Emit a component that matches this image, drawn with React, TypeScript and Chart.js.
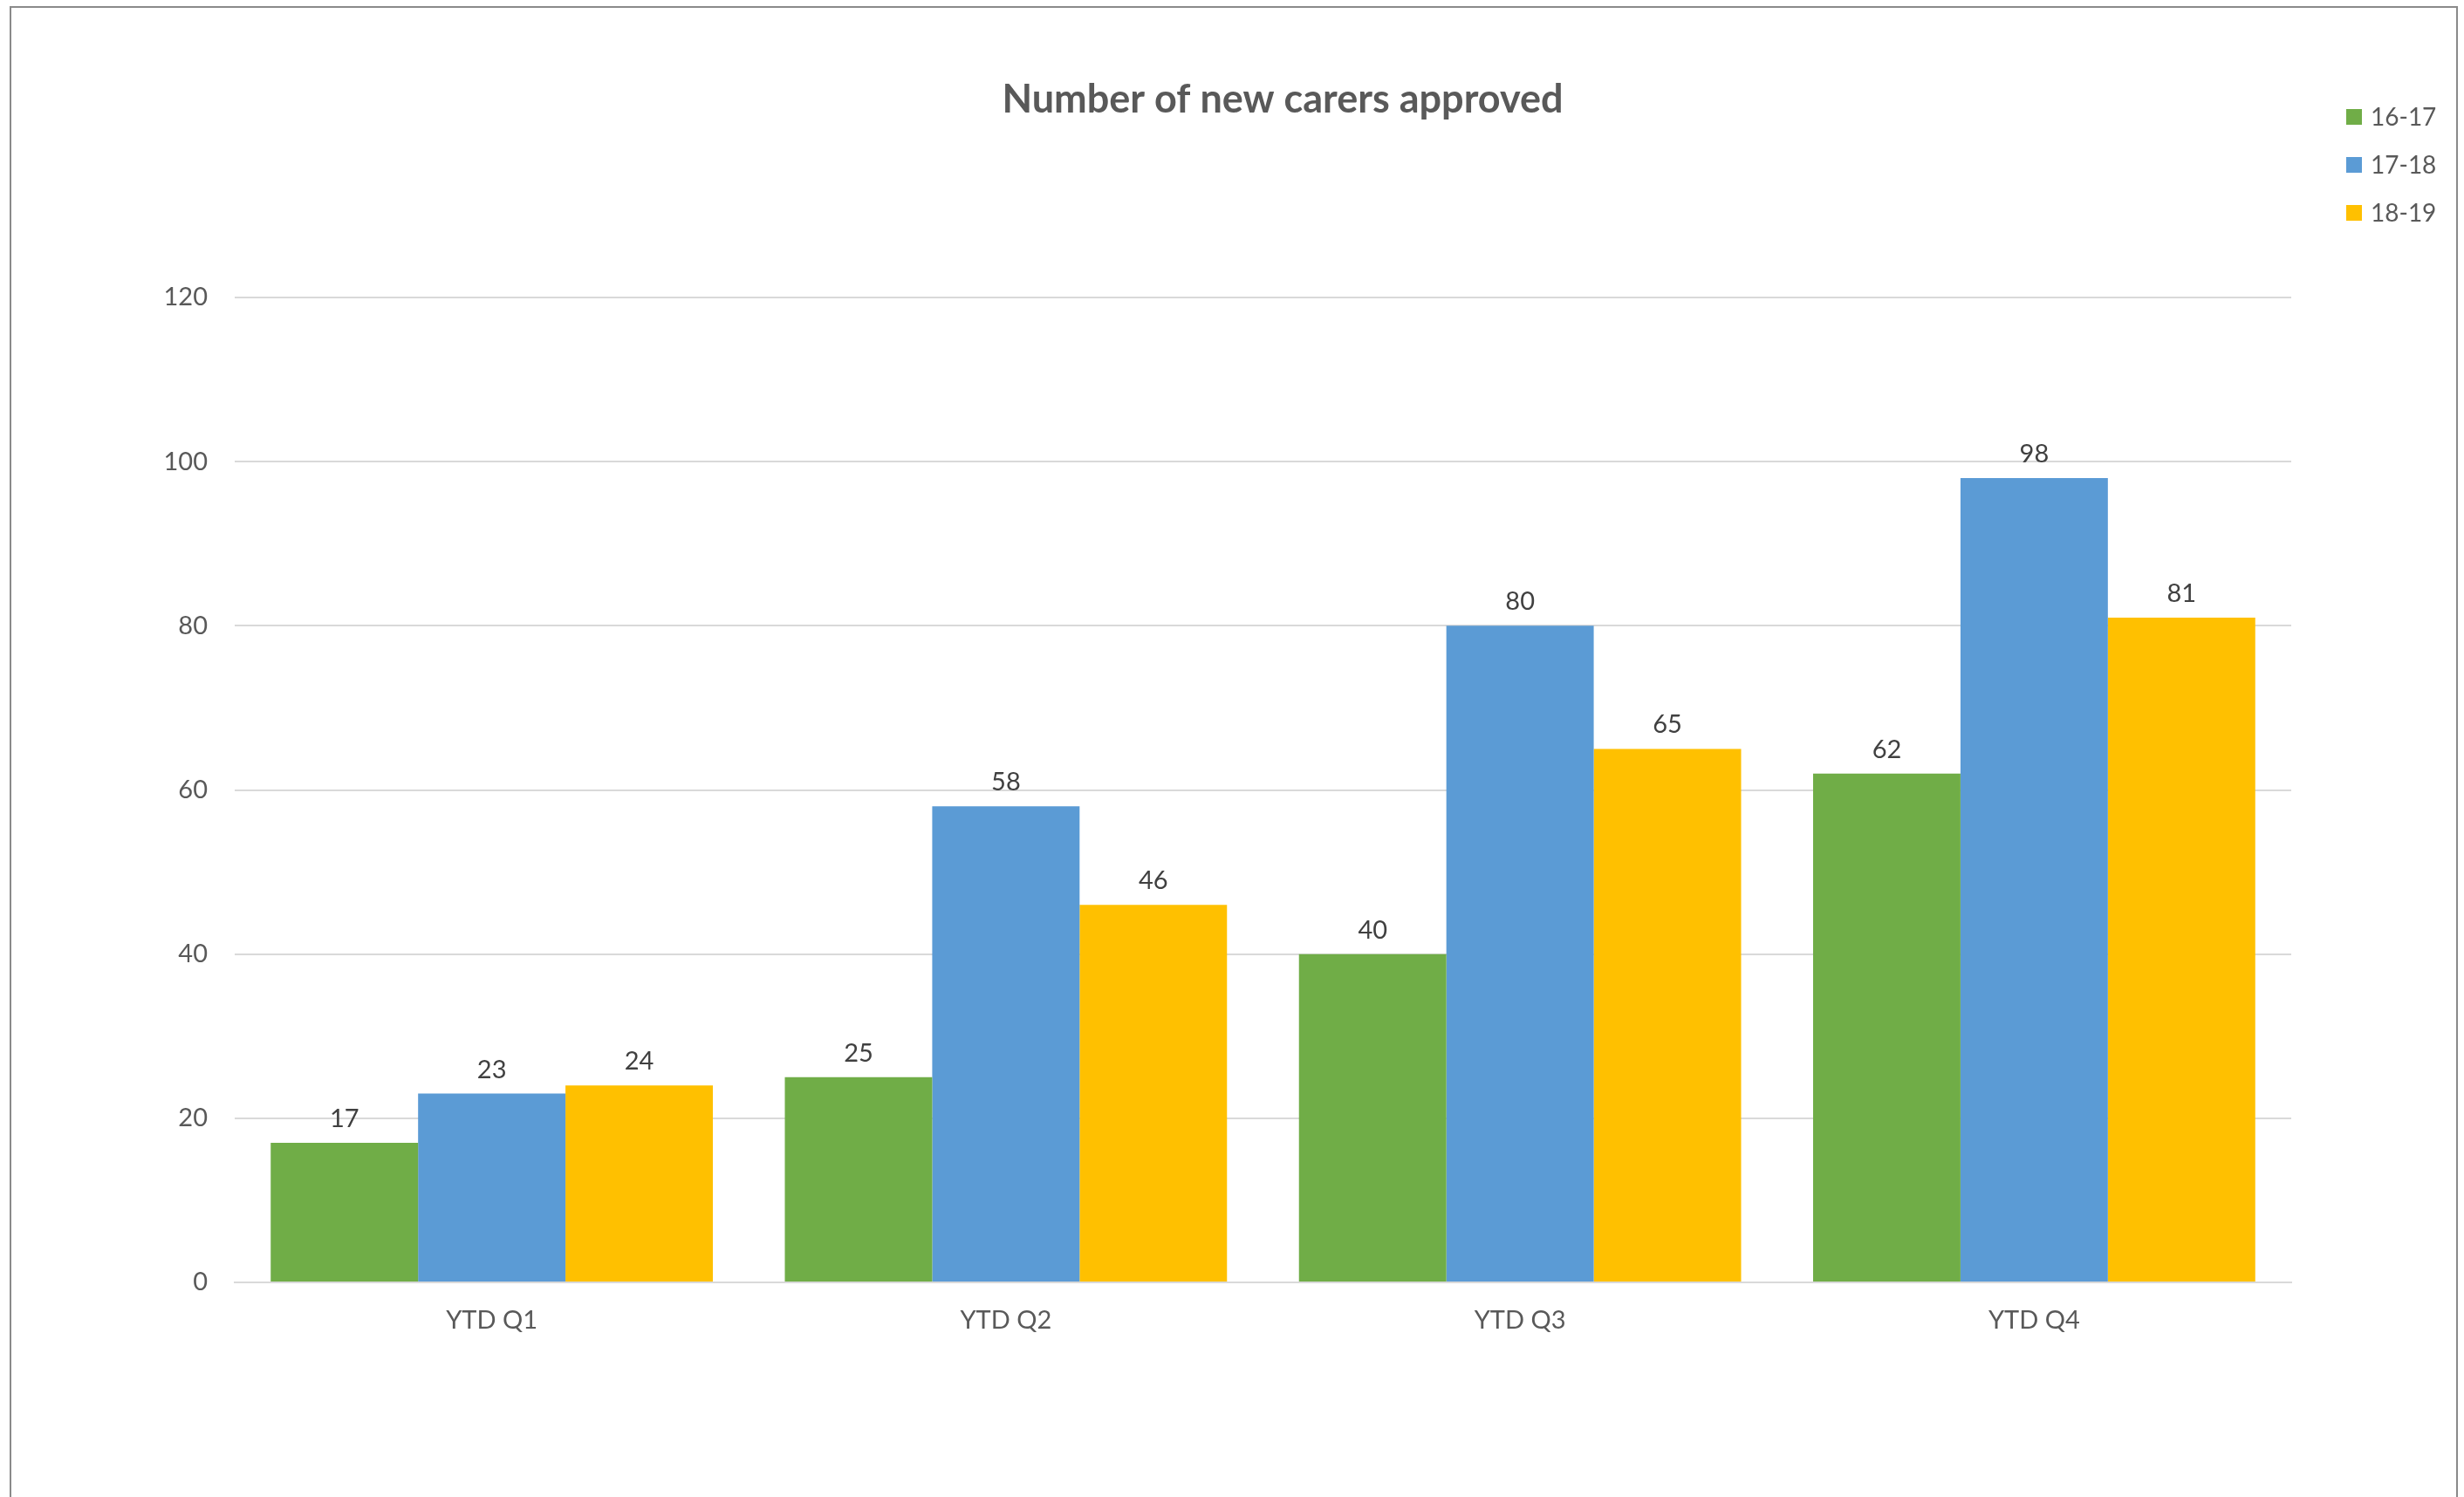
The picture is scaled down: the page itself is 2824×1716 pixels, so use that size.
import React, { useEffect, useRef } from "react";
import { Chart, registerables } from "chart.js";

Chart.register(...registerables);

const categories = ["YTD Q1", "YTD Q2", "YTD Q3", "YTD Q4"];
const seriesLabels = ["16-17", "17-18", "18-19"];
const values1617 = [17, 25, 40, 62];
const values1718 = [23, 58, 80, 98];
const values1819 = [24, 46, 65, 81];
const seriesColors = ["#70AD47", "#5B9BD5", "#FFC000"];
const yMin = 0;
const yMax = 120;
const yStep = 20;
const titleText = "Number of new carers approved";

const FONT = "Lato";
const TEXT = "#595959";

const framePlugin = {
  id: "frame",
  beforeDraw(chart: any) {
    const { ctx, width, height } = chart;
    ctx.save();
    ctx.fillStyle = "#ffffff";
    ctx.fillRect(0, 0, width, height);
    ctx.strokeStyle = "#8a8a8a";
    ctx.lineWidth = 2;
    ctx.beginPath();
    ctx.moveTo(12, height);
    ctx.lineTo(12, 8);
    ctx.lineTo(2816, 8);
    ctx.lineTo(2816, height);
    ctx.stroke();
    ctx.restore();
  },
};

const titlePlugin = {
  id: "customTitle",
  afterDraw(chart: any) {
    const { ctx } = chart;
    ctx.save();
    ctx.font = `bold 45px ${FONT}`;
    ctx.fillStyle = TEXT;
    ctx.textAlign = "center";
    ctx.textBaseline = "middle";
    ctx.fillText(titleText, 1470, 114);
    ctx.restore();
  },
};

const legendPlugin = {
  id: "customLegend",
  afterDraw(chart: any) {
    const { ctx } = chart;
    ctx.save();
    ctx.font = `28px ${FONT}`;
    ctx.textAlign = "left";
    ctx.textBaseline = "middle";
    chart.data.datasets.forEach((ds: any, i: number) => {
      const cy = 134 + i * 55;
      ctx.fillStyle = ds.backgroundColor;
      ctx.fillRect(2689, cy - 9, 18, 18);
      ctx.fillStyle = TEXT;
      ctx.fillText(ds.label, 2717, cy + 1);
    });
    ctx.restore();
  },
};

const dataLabelPlugin = {
  id: "dataLabels",
  afterDatasetsDraw(chart: any) {
    const { ctx } = chart;
    ctx.save();
    ctx.font = `29px ${FONT}`;
    ctx.fillStyle = "#404040";
    ctx.textAlign = "center";
    ctx.textBaseline = "alphabetic";
    chart.data.datasets.forEach((ds: any, i: number) => {
      const meta = chart.getDatasetMeta(i);
      meta.data.forEach((el: any, j: number) => {
        ctx.fillText(String(ds.data[j]), el.x, el.y - 18);
      });
    });
    ctx.restore();
  },
};

export default function App() {
  const ref = useRef<HTMLCanvasElement | null>(null);
  useEffect(() => {
    if (!ref.current) return;
    const values = [values1617, values1718, values1819];
    const chart = new Chart(ref.current, {
      type: "bar",
      data: {
        labels: categories,
        datasets: seriesLabels.map((label, i) => ({
          label,
          data: values[i],
          backgroundColor: seriesColors[i],
          borderWidth: 0,
          categoryPercentage: 0.86,
          barPercentage: 1.0,
        })),
      },
      options: {
        animation: false,
        responsive: false,
        devicePixelRatio: 1,
        layout: { padding: { top: 341, right: 198, bottom: 0, left: 0 } },
        plugins: {
          legend: { display: false },
          title: { display: false },
          tooltip: { enabled: false },
        },
        scales: {
          x: {
            afterFit: (s: any) => {
              s.height = 246;
            },
            grid: { display: false, drawTicks: false },
            border: { display: true, color: "#D9D9D9", width: 2 },
            ticks: {
              padding: 26,
              color: TEXT,
              font: { family: FONT, size: 29 },
            },
          },
          y: {
            min: yMin,
            max: yMax,
            afterFit: (s: any) => {
              s.width = 269;
            },
            grid: { color: "#D9D9D9", lineWidth: 2, drawTicks: false },
            border: { display: false },
            ticks: {
              stepSize: yStep,
              padding: 31,
              color: TEXT,
              font: { family: FONT, size: 29 },
            },
          },
        },
      },
      plugins: [framePlugin, titlePlugin, legendPlugin, dataLabelPlugin],
    });
    return () => chart.destroy();
  }, []);
  return (
    <div style={{ position: "fixed", left: 0, top: 0, width: 2824, height: 1716 }}>
      <canvas ref={ref} width={2824} height={1716} style={{ width: 2824, height: 1716, display: "block" }} />
    </div>
  );
}
